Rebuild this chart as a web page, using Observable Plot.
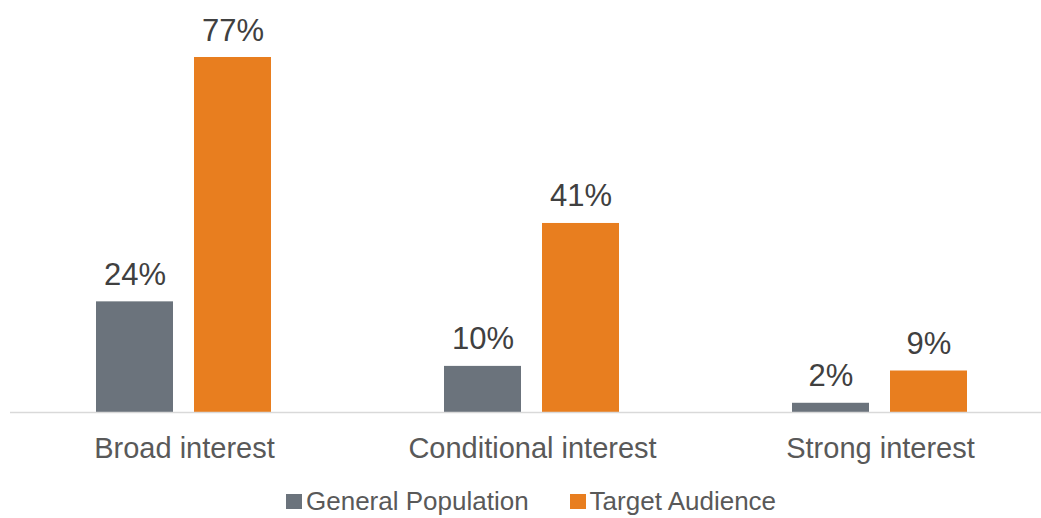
<!DOCTYPE html>
<html>
<head>
<meta charset="utf-8">
<script src="https://cdn.jsdelivr.net/npm/d3@7"></script>
<script src="https://cdn.jsdelivr.net/npm/@observablehq/plot@0.6"></script>
<style>
  html, body { margin: 0; padding: 0; background: #fff; }
  body { width: 1041px; height: 518px; position: relative; overflow: hidden; font-family: "Liberation Sans", Arial, sans-serif; }
  #chart { position: absolute; left: 0; top: 0; }
  #legend { position: absolute; top: 486px; left: 286px; display: flex; align-items: center; font-size: 26px; line-height: 30px; color: #595959; white-space: nowrap; }
  #legend .sw { display: inline-block; width: 16px; height: 15px; margin-right: 4px; }
  #legend .item { display: flex; align-items: center; margin-right: 41px; }
</style>
</head>
<body>
<div id="chart"></div>
<div id="legend"></div>
<script>
const categories = ["Broad interest", "Conditional interest", "Strong interest"];
const seriesNames = ["General Population", "Target Audience"];
const generalPopulation = [24, 10, 2];
const targetAudience = [77, 41, 9];
const colors = ["#6b737c", "#e87e1f"];

const data = [];
categories.forEach((c, i) => {
  data.push({category: c, series: seriesNames[0], value: generalPopulation[i]});
  data.push({category: c, series: seriesNames[1], value: targetAudience[i]});
});

const chart = Plot.plot({
  width: 1041,
  height: 475,
  marginLeft: 9,
  marginRight: -14,
  marginTop: 57,
  marginBottom: 63,
  style: {fontFamily: "'Liberation Sans', Arial, sans-serif", background: "#fff"},
  fx: {domain: categories, padding: 0, label: null},
  x: {domain: seriesNames, paddingInner: 0.212, paddingOuter: 0.867, axis: null},
  y: {domain: [0, 77], axis: null},
  color: {domain: seriesNames, range: colors},
  marks: [
    Plot.barY(data, {fx: "category", x: "series", y: "value", fill: "series"}),
    Plot.ruleY([0], {stroke: "#d9d9d9", strokeWidth: 1.5}),
    Plot.text(data, {fx: "category", x: "series", y: "value", text: d => d.value + "%", dy: -17, lineAnchor: "bottom", fontSize: 31, fill: "#404040"}),
    Plot.axisFx({anchor: "bottom", tickSize: 0, tickPadding: 25, fontSize: 29, color: "#595959", label: null})
  ]
});
document.getElementById("chart").appendChild(chart);

const legend = document.getElementById("legend");
seriesNames.forEach((s, i) => {
  const item = document.createElement("div");
  item.className = "item";
  const sw = document.createElement("span");
  sw.className = "sw";
  sw.style.background = colors[i];
  const t = document.createElement("span");
  t.textContent = s;
  item.appendChild(sw);
  item.appendChild(t);
  legend.appendChild(item);
});
</script>
</body>
</html>
